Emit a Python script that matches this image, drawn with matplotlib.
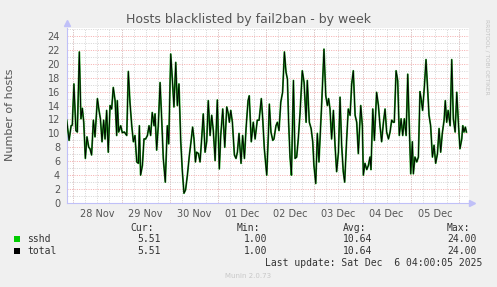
import datetime as dt
import matplotlib
matplotlib.use("Agg")
import matplotlib.pyplot as plt
import matplotlib.dates as mdates
from matplotlib.ticker import MultipleLocator
from matplotlib.patches import Rectangle

# hours after 28 Nov 2025 00:00, and hosts blacklisted at that time
hours = [
    -3.3, -2.1, -1.1, -0.5, 0.3, 1.3, 2.0, 3.0, 3.8, 4.5,
    5.2, 6.0, 6.8, 7.7, 8.3, 9.1, 10.0, 10.8, 12.0, 12.8,
    13.5, 14.3, 15.1, 15.8, 16.6, 17.4, 18.3, 19.1, 19.9, 20.8,
    21.6, 21.9, 22.6, 23.6, 24.4, 25.4, 26.6, 27.4, 28.2, 29.1,
    29.9, 30.7, 31.6, 32.4, 32.9, 33.5, 34.4, 35.2, 36.0, 36.9,
    37.7, 38.5, 39.3, 40.2, 40.7, 41.5, 42.3, 43.2, 44.0, 44.8,
    45.8, 46.8, 47.5, 48.5, 49.3, 50.1, 51.0, 51.8, 52.6, 53.5,
    54.3, 55.1, 55.9, 56.8, 57.8, 58.6, 59.4, 60.1, 60.8, 61.4,
    62.3, 63.1, 63.9, 64.7, 65.6, 66.4, 67.2, 68.1, 68.9, 69.7,
    70.6, 71.7, 72.7, 73.4, 74.4, 75.4, 76.4, 77.2, 77.7, 78.4,
    79.2, 80.2, 81.0, 81.7, 82.5, 83.5, 84.3, 85.2, 86.0, 87.0,
    87.6, 88.6, 89.6, 90.5, 91.6, 92.5, 93.6, 94.3, 95.1, 96.3,
    97.1, 97.6, 98.4, 99.3, 99.9, 100.9, 101.6, 102.4, 103.3, 104.2,
    105.1, 105.9, 106.6, 107.2, 107.9, 108.6, 109.6, 110.4, 111.2, 112.0,
    112.9, 114.0, 114.9, 115.9, 116.5, 117.5, 118.4, 119.2, 119.8, 120.7,
    121.5, 122.3, 123.7, 124.8, 125.7, 126.5, 127.1, 127.8, 128.6, 129.5,
    130.3, 131.1, 132.0, 132.8, 133.6, 134.4, 135.1, 136.1, 136.9, 137.8,
    138.6, 139.4, 140.3, 141.1, 141.9, 143.1, 143.9, 144.4, 145.2, 146.1,
    146.9, 147.7, 148.2, 149.1, 149.9, 151.0, 151.9, 152.7, 153.5, 154.4,
    155.2, 156.0, 156.9, 157.7, 158.5, 159.3, 159.8, 160.7, 161.5, 162.3,
    163.2, 164.0, 164.8, 165.7, 166.5, 167.3, 168.0, 168.8, 169.3, 170.1,
    171.0, 171.8, 172.6, 173.3, 173.9, 174.8, 175.6, 176.3, 177.1, 177.9,
    178.8, 179.6, 180.4, 181.3, 182.1, 182.9, 183.7, 184.6, 185.2, 185.9,
    186.6, 187.6, 188.4, 189.2, 190.1, 190.9, 191.7, 192.5, 193.4, 193.9,
    194.5, 195.2, 195.7,
]
hosts = [
    11.9, 9.0, 11.1, 11.2, 17.1, 10.4, 10.2, 21.7, 12.1, 13.6,
    11.6, 6.4, 9.5, 8.0, 7.8, 6.9, 11.9, 9.5, 15.0, 13.3,
    12.1, 8.8, 11.9, 9.2, 13.3, 7.3, 14.0, 13.5, 16.6, 14.7,
    9.7, 14.7, 10.2, 11.1, 10.1, 10.2, 9.7, 18.9, 14.5, 11.1,
    8.8, 9.7, 5.9, 5.7, 11.1, 4.0, 5.4, 9.2, 9.2, 9.7,
    11.1, 9.7, 13.0, 11.1, 12.8, 7.6, 11.1, 17.3, 12.1, 6.4,
    3.0, 11.1, 8.5, 21.4, 17.8, 13.8, 20.2, 14.0, 17.1, 8.8,
    4.5, 1.4, 1.9, 4.0, 6.9, 8.8, 10.9, 9.2, 5.9, 7.3,
    7.1, 5.9, 9.2, 12.8, 7.3, 8.8, 14.7, 9.7, 12.6, 10.4,
    6.1, 14.8, 4.9, 9.7, 13.5, 8.0, 13.8, 12.8, 11.6, 13.3,
    11.6, 6.9, 6.4, 7.3, 10.0, 5.7, 9.7, 6.4, 10.7, 14.7,
    15.4, 8.8, 11.6, 9.2, 11.9, 11.9, 15.0, 12.1, 7.8, 4.0,
    9.7, 14.2, 10.2, 9.0, 9.2, 11.1, 11.6, 10.4, 14.5, 15.9,
    21.7, 18.8, 17.8, 11.6, 6.6, 4.0, 17.6, 6.4, 6.6, 9.2,
    13.0, 19.0, 17.3, 11.6, 17.6, 11.6, 10.7, 8.8, 5.4, 2.8,
    10.0, 5.9, 14.5, 22.1, 15.4, 14.0, 15.0, 13.5, 9.2, 13.3,
    8.3, 4.5, 7.3, 15.2, 8.3, 4.5, 3.0, 9.2, 13.5, 12.6,
    17.1, 19.0, 12.6, 11.6, 7.1, 14.0, 11.1, 4.0, 5.7, 4.8,
    5.4, 6.6, 4.8, 13.5, 9.0, 15.9, 14.0, 11.1, 8.8, 11.6,
    13.5, 10.2, 9.2, 10.2, 11.9, 11.6, 11.6, 19.0, 17.6, 9.7,
    12.1, 9.7, 12.1, 9.7, 18.5, 11.1, 4.2, 8.8, 4.2, 6.6,
    5.9, 6.6, 16.0, 14.7, 13.3, 16.8, 20.6, 16.8, 12.6, 11.1,
    6.6, 8.3, 5.7, 7.1, 10.7, 7.3, 10.0, 11.9, 14.7, 11.6,
    13.3, 11.1, 20.6, 12.1, 10.2, 15.9, 11.6, 7.8, 9.2, 11.1,
    10.2, 10.9, 10.2,
]
assert len(hours) == len(hosts)

legend_names = ["sshd", "total"]
legend_colors = ["#00CC00", "#000000"]
stat_heads = ["Cur:", "Min:", "Avg:", "Max:"]
stat_values = [["5.51", "1.00", "10.64", "24.00"],
               ["5.51", "1.00", "10.64", "24.00"]]
last_update = "Last update: Sat Dec  6 04:00:05 2025"

start = dt.datetime(2025, 11, 28)
times = [start + dt.timedelta(hours=h) for h in hours]

W, H = 497, 287
fig = plt.figure(figsize=(W / 100, H / 100), dpi=100, facecolor="#F0F0F0")
ax = fig.add_axes([67 / W, (H - 203) / H, 402 / W, 175 / H])
ax.set_facecolor("white")

ax.set_xlim(start - dt.timedelta(hours=3.14), start + dt.timedelta(hours=197))
ax.set_ylim(0, 25.14)

# grid: grey every 6 h / 1 unit, red at midnight / every 2 units
ax.xaxis.set_major_locator(mdates.HourLocator(byhour=12))
ax.xaxis.set_minor_locator(mdates.HourLocator(byhour=[0, 6, 18]))
ax.xaxis.set_major_formatter(mdates.DateFormatter("%d %b"))
ax.yaxis.set_major_locator(MultipleLocator(2))
ax.yaxis.set_minor_locator(MultipleLocator(1))
grey = dict(color="#CFCFCF", lw=0.6, linestyle=(0, (1.2, 1.6)))
red = dict(color="#F4A0A0", lw=0.6, linestyle=(0, (1.2, 1.6)))
ax.xaxis.grid(True, which="both", **grey)
ax.yaxis.grid(True, which="minor", **grey)
ax.yaxis.grid(True, which="major", **red)
for d in range(9):
    ax.axvline(start + dt.timedelta(days=d), zorder=0.5, **red)
ax.set_axisbelow(True)

ax.plot(times, hosts, color="#1FA01F", lw=1.3, zorder=3)
ax.plot(times, hosts, color="black", lw=0.65, zorder=4)

for s in ["top", "right"]:
    ax.spines[s].set_visible(False)
for s in ["left", "bottom"]:
    ax.spines[s].set_color("#C0C0F8")
    ax.spines[s].set_linewidth(0.8)
ax.plot([0], [1.03], marker="^", ms=4, color="#C0C0F8", transform=ax.transAxes, clip_on=False)
ax.plot([1.008], [0], marker=">", ms=4, color="#C0C0F8", transform=ax.transAxes, clip_on=False)

ax.tick_params(which="both", length=0, colors="#555555", labelsize=7)
ax.tick_params(axis="y", pad=5)
ax.tick_params(axis="x", pad=4)

fig.text(0.5, 1 - 19 / H, "Hosts blacklisted by fail2ban - by week",
         ha="center", va="center", fontsize=9, color="#555555")
fig.text(10 / W, 1 - 115 / H, "Number of hosts", rotation=90,
         ha="center", va="center", fontsize=8, color="#555555")
fig.text(487 / W, 1 - 57 / H, "RRDTOOL / TOBI OETIKER", rotation=270,
         ha="center", va="center", fontsize=4.2, color="#C4C4C4")

mono = dict(family="DejaVu Sans Mono", fontsize=7, color="#333333", va="center")
for head, xr in zip(stat_heads, [154, 260, 366, 470]):
    fig.text(xr / W, 1 - 228 / H, head, ha="right", **mono)
for row, (name, col, vals) in enumerate(zip(legend_names, legend_colors, stat_values)):
    y = 239 + row * 12
    fig.add_artist(Rectangle((14 / W, 1 - (y + 3) / H), 6 / W, 6 / H,
                             transform=fig.transFigure, facecolor=col, edgecolor="none"))
    fig.text(27 / W, 1 - y / H, name, ha="left", **mono)
    for v, xr in zip(vals, [161, 267, 372, 477]):
        fig.text(xr / W, 1 - y / H, v, ha="right", **mono)
fig.text(482 / W, 1 - 263 / H, last_update, ha="right", **mono)
fig.text(248 / W, 1 - 276 / H, "Munin 2.0.73", ha="center", va="center",
         fontsize=5, color="#C8C8C8")

fig.savefig("out.png", dpi=100, facecolor=fig.get_facecolor())
